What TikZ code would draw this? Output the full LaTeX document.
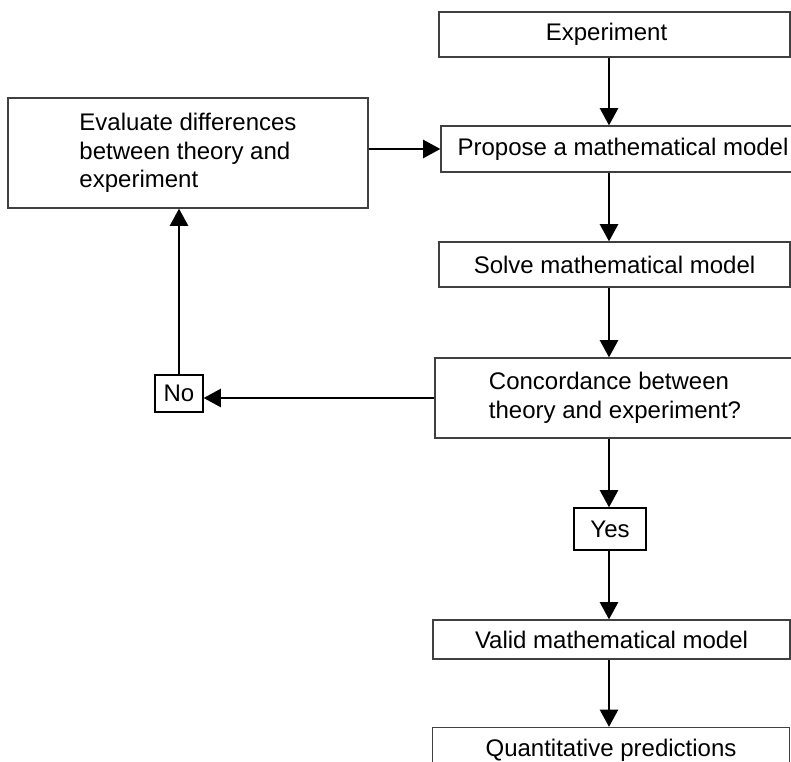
\documentclass[tikz,border=0pt]{standalone}
\usepackage{fontspec}
\setmainfont{Liberation Sans}
\usetikzlibrary{arrows.meta,positioning,calc}

\begin{document}
\begin{tikzpicture}
 [
  x=0.75pt, y=-0.75pt,
  every node/.style={font=\fontsize{18}{21.5}\selectfont},
  box/.style={draw=black!75, line width=0.9pt, inner sep=0pt, fill=white},
  flow/.style={line width=2.1pt, -{Triangle[length=13pt,width=13.5pt]}},
 ]
  \useasboundingbox (0,0) rectangle (791,762);
  \clip (0,0) rectangle (791,762);
  \coordinate (axis) at (609,0);
  % main column
  \node [box, minimum width=263.25pt, minimum height=33.75pt] (expt) at (614.5,34.5) {Experiment\hspace*{12pt}};
  \node [box, minimum width=273pt, minimum height=34.5pt] (propose) at (623,149) {Propose a mathematical model};
  \node [box, minimum width=263.25pt, minimum height=33.75pt] (solve) at (614.5,264.5) {Solve mathematical model};
  \node [box, minimum width=270pt, minimum height=60pt, align=left] (concord) at (615,398)
        {Concordance between\\theory and experiment?};
  \node [box, draw=black, minimum width=54pt, minimum height=31.5pt] (yes) at (610,529) {Yes};
  \node [box, minimum width=267.75pt, minimum height=29.25pt] (valid) at (611.5,639.5) {Valid mathematical model};
  \node [box, minimum width=267.75pt, minimum height=33.75pt] (quant) at (611,750) {Quantitative predictions};
  % feedback loop
  \node [box, minimum width=270pt, minimum height=82.5pt, align=left] (evaluate) at (188,153)
        {Evaluate differences\\between theory and\\experiment};
  \node [box, draw=black, minimum width=36pt, minimum height=27.75pt] (no) at (179,393.5) {No};

  \draw [flow] (expt.south -| axis) -- (propose.north -| axis);
  \draw [flow] (propose.south -| axis) -- (solve.north -| axis);
  \draw [flow] (solve.south -| axis) -- (concord.north -| axis);
  \draw [flow] (concord.south -| axis) -- (yes.north -| axis);
  \draw [flow] (yes.south -| axis) -- (valid.north -| axis);
  \draw [flow] (valid.south -| axis) -- (quant.north -| axis);
  \draw [flow] (concord.west) -- (concord.west -| no.east);
  \draw [flow] (no.north) -- (no.north |- evaluate.south);
  \draw [flow] (evaluate.east |- propose.west) -- (propose.west);
\end{tikzpicture}
\end{document}
